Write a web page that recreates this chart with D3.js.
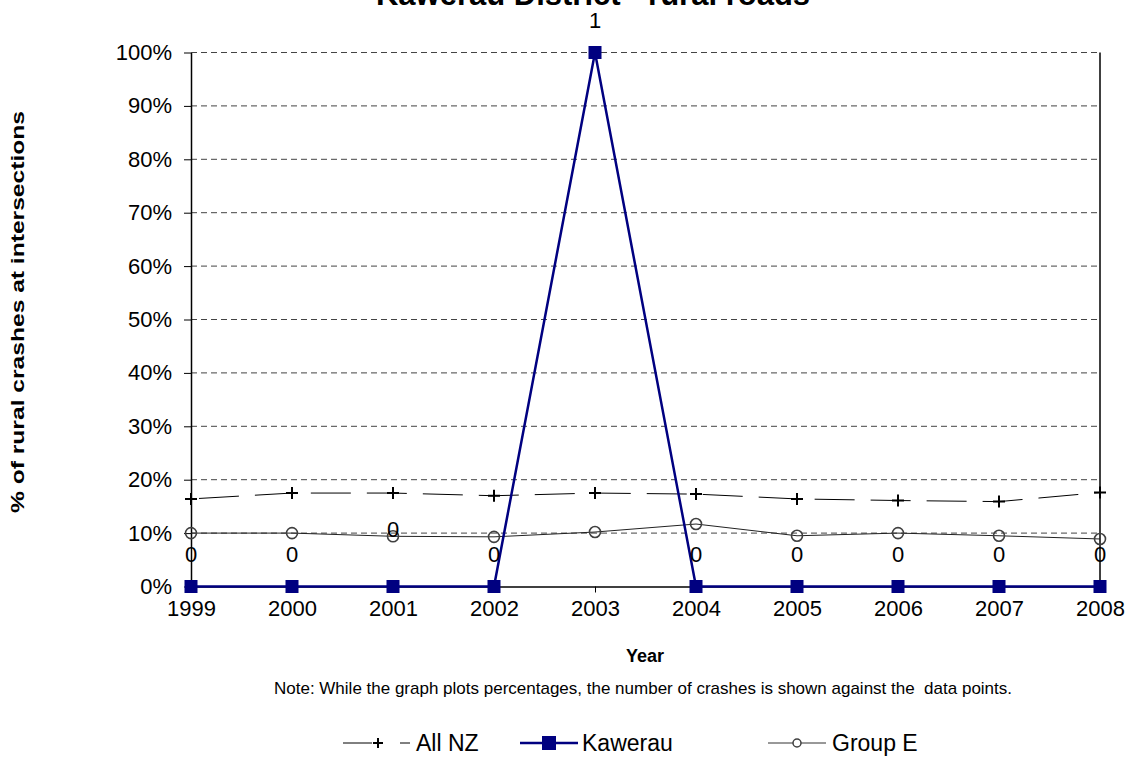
<!DOCTYPE html>
<html><head><meta charset="utf-8">
<script src="https://cdn.jsdelivr.net/npm/d3@7"></script>
<style>body{margin:0;background:#fff}svg{display:block;font-family:Arial,"Liberation Sans",sans-serif}</style>
</head><body><svg id="c" width="1131" height="769"></svg>
<script>
const years = [1999,2000,2001,2002,2003,2004,2005,2006,2007,2008];
const allNZ = [0.164,0.175,0.175,0.170,0.175,0.173,0.164,0.161,0.159,0.176];
const kawerau = [0,0,0,0,1,0,0,0,0,0];
const groupE = [0.100,0.100,0.094,0.093,0.102,0.117,0.095,0.100,0.095,0.089];
const kawerauCounts = [0,0,0,0,1,0,0,0,0,0];
const yTicks = [0,0.1,0.2,0.3,0.4,0.5,0.6,0.7,0.8,0.9,1.0];
const seriesNames = ["All NZ","Kawerau","Group E"];

const svg = d3.select("#c");
const L=191, R=1100, T=52.5, B=586.5;
const x = d3.scalePoint().domain(years).range([L,R]).padding(0);
const y = d3.scaleLinear().domain([0,1]).range([B,T]);

// gridlines
svg.append("g").selectAll("line").data(yTicks.filter(d=>d>0)).join("line")
  .attr("x1",L).attr("x2",R).attr("y1",d=>y(d)).attr("y2",d=>y(d))
  .attr("stroke","#444").attr("stroke-dasharray","6,4").attr("stroke-width",1);

// y axis
const ya = d3.axisLeft(y).tickValues(yTicks).tickFormat(d3.format(".0%")).tickSize(7).tickSizeOuter(0);
const gy = svg.append("g").attr("transform",`translate(${L},0)`).call(ya);
gy.select(".domain").attr("stroke","#000").attr("stroke-width",1.5);
gy.selectAll(".tick line").attr("stroke","#000");
gy.selectAll(".tick text").attr("font-size",22).attr("fill","#000").attr("x",-19).attr("font-family","Arial");

// x axis
const xa = d3.axisBottom(x).tickSize(6).tickSizeOuter(0);
const gx = svg.append("g").attr("transform",`translate(0,${B})`).call(xa);
gx.select(".domain").attr("stroke","#000").attr("stroke-width",1.5);
gx.selectAll(".tick line").attr("stroke","#000");
gx.selectAll(".tick text").attr("font-size",22).attr("fill","#000").attr("y",10).attr("dy","0.9em").attr("font-family","Arial");

// right border
svg.append("line").attr("x1",R).attr("x2",R).attr("y1",T).attr("y2",B).attr("stroke","#000").attr("stroke-width",1.5);

const line = d3.line().x((d,i)=>x(years[i])).y(d=>y(d));

// Group E
svg.append("path").datum(groupE).attr("d",line).attr("fill","none").attr("stroke","#222").attr("stroke-width",1);
svg.append("g").selectAll("circle").data(groupE).join("circle")
  .attr("cx",(d,i)=>x(years[i])).attr("cy",d=>y(d)).attr("r",5.5)
  .attr("fill","none").attr("stroke","#404040").attr("stroke-width",1.6);

// All NZ
svg.append("path").datum(allNZ).attr("d",line).attr("fill","none").attr("stroke","#000").attr("stroke-width",1).attr("stroke-dasharray","40,16").attr("stroke-dashoffset",-8);
svg.append("g").selectAll("path").data(allNZ).join("path")
  .attr("d","M-6,0H6M0,-6V6")
  .attr("transform",(d,i)=>`translate(${x(years[i])},${y(d)})`)
  .attr("stroke","#000").attr("stroke-width",2);

// Kawerau
svg.append("path").datum(kawerau).attr("d",line).attr("fill","none").attr("stroke","#000080").attr("stroke-width",2.5);
svg.append("g").selectAll("rect").data(kawerau).join("rect")
  .attr("x",(d,i)=>x(years[i])-6.5).attr("y",d=>y(d)-6.5).attr("width",13).attr("height",13).attr("fill","#000080");

// count labels
svg.append("g").selectAll("text").data(kawerauCounts).join("text")
  .attr("x",(d,i)=>x(years[i]))
  .attr("y",(d,i)=> years[i]===2001 ? y(kawerau[i])-50 : y(kawerau[i])-25)
  .attr("text-anchor","middle").attr("font-size",22).text(d=>d);

// title
svg.append("text").attr("x",593).attr("y",5).attr("text-anchor","middle").attr("font-size",31).attr("font-weight","bold").text("Kawerau District - rural roads");

// axis titles
svg.append("text").attr("x",645).attr("y",662).attr("text-anchor","middle").attr("font-size",18).attr("font-weight","bold").text("Year");
svg.append("text").attr("transform","translate(24,312) rotate(-90)").attr("text-anchor","middle").attr("font-size",19).attr("font-weight","bold")
  .attr("textLength",402).attr("lengthAdjust","spacingAndGlyphs").text("% of rural crashes at intersections");
svg.append("text").attr("x",643).attr("y",694).attr("text-anchor","middle").attr("font-size",17)
  .text("Note: While the graph plots percentages, the number of crashes is shown against the  data points.").style("white-space","pre");

// legend
const ly = 743;
const lg = svg.append("g");
// All NZ
lg.append("line").attr("x1",343).attr("x2",372).attr("y1",ly).attr("y2",ly).attr("stroke","#000");
lg.append("path").attr("d","M-5,0H5M0,-5V5").attr("transform",`translate(378,${ly})`).attr("stroke","#000").attr("stroke-width",2);
lg.append("line").attr("x1",400).attr("x2",410).attr("y1",ly).attr("y2",ly).attr("stroke","#000");
// Kawerau
lg.append("line").attr("x1",520).attr("x2",578).attr("y1",ly).attr("y2",ly).attr("stroke","#000080").attr("stroke-width",2.5);
lg.append("rect").attr("x",542).attr("y",ly-7).attr("width",14).attr("height",14).attr("fill","#000080");
// Group E
lg.append("line").attr("x1",768).attr("x2",826).attr("y1",ly).attr("y2",ly).attr("stroke","#333");
lg.append("circle").attr("cx",797).attr("cy",ly).attr("r",4).attr("fill","#fff").attr("stroke","#404040").attr("stroke-width",1.5);
const lx = [416,582,832];
lg.selectAll("text.l").data(seriesNames).join("text").attr("class","l")
  .attr("x",(d,i)=>lx[i]).attr("y",ly).attr("dy","0.35em").attr("font-size",23).text(d=>d);
</script></body></html>
